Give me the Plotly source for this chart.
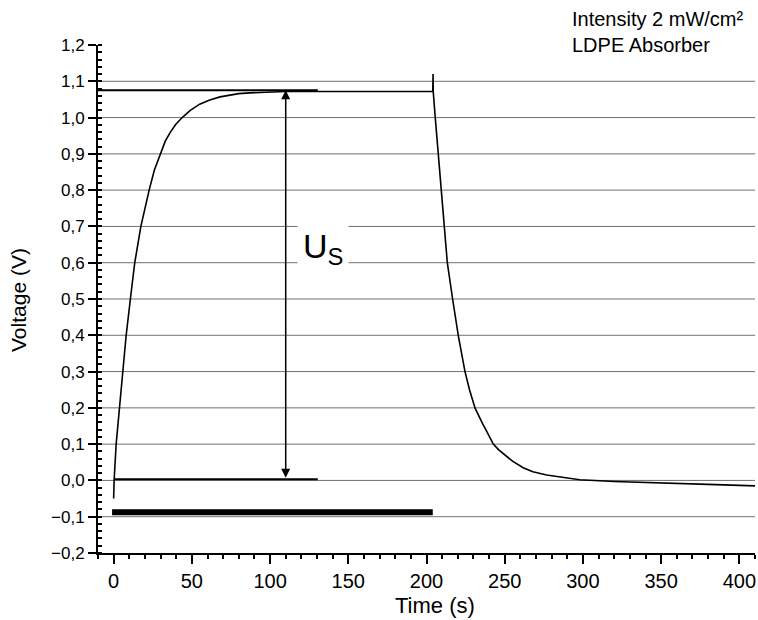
import plotly.graph_objects as go

# ---- data ----
TIME = [0, 0.3, 1.6, 3.7, 5.9, 8.0, 10.7, 13.5, 17.4, 20, 22.7, 26, 29.7, 33, 36, 39.5, 43.8,
        49, 55, 61, 68, 74, 80, 87, 95, 110, 130, 160, 190, 204, 204.2, 204.3, 205.6, 207.5,
        209.4, 211.1, 213.3, 216.7, 220.3, 224.6, 227.5, 231, 233.5, 236, 238.5, 242.7, 246,
        250, 255, 261.8, 268, 276.8, 285, 290, 298, 320, 349, 380, 410]
VOLTAGE = [-0.05, 0.0, 0.1, 0.2, 0.3, 0.4, 0.5, 0.6, 0.7, 0.75, 0.8, 0.855, 0.9, 0.935, 0.958,
           0.98, 1.0, 1.02, 1.037, 1.048, 1.057, 1.062, 1.066, 1.068, 1.070, 1.072, 1.072,
           1.072, 1.072, 1.072, 1.12, 1.072, 1.0, 0.9, 0.8, 0.7, 0.6, 0.5, 0.4, 0.3, 0.25,
           0.2, 0.175, 0.155, 0.135, 0.1, 0.085, 0.07, 0.053, 0.035, 0.024, 0.015, 0.01,
           0.007, 0.002, -0.003, -0.006, -0.011, -0.015]

US_LEVEL_T = [-10, 130.5]      # upper reference line (saturation level)
US_LEVEL_V = [1.075, 1.075]
ZERO_LEVEL_T = [0.3, 130.5]    # lower reference line
ZERO_LEVEL_V = [0.003, 0.003]
LIGHT_T = [-1, 204]            # illumination period bar
LIGHT_V = [-0.088, -0.088]
ARROW_T = 110
ARROW_V = [0.003, 1.075]
LABEL_POS = (134, 0.64)

GRID_LEVELS = [-0.1, 0.0, 0.1, 0.2, 0.3, 0.4, 0.5, 0.6, 0.7, 0.8, 0.9, 1.0, 1.1]
Y_TICKS = [-0.2, -0.1, 0.0, 0.1, 0.2, 0.3, 0.4, 0.5, 0.6, 0.7, 0.8, 0.9, 1.0, 1.1, 1.2]
X_TICKS = [0, 50, 100, 150, 200, 250, 300, 350, 400]

FONT = "Liberation Sans"
W, H = 758, 620
ML, MR, MT, MB = 98, 3, 45, 67
PW, PH = W - ML - MR, H - MT - MB

fig = go.Figure()

fig.add_trace(go.Scatter(x=LIGHT_T, y=LIGHT_V, mode="lines",
                         line=dict(color="black", width=6), hoverinfo="skip"))
fig.add_trace(go.Scatter(x=US_LEVEL_T, y=US_LEVEL_V, mode="lines",
                         line=dict(color="black", width=2), hoverinfo="skip"))
fig.add_trace(go.Scatter(x=ZERO_LEVEL_T, y=ZERO_LEVEL_V, mode="lines",
                         line=dict(color="black", width=2), hoverinfo="skip"))
fig.add_trace(go.Scatter(x=TIME, y=VOLTAGE, mode="lines",
                         line=dict(color="black", width=1.6)))

for g in GRID_LEVELS:
    fig.add_shape(type="line", xref="paper", x0=0, x1=1, yref="y", y0=g, y1=g,
                  line=dict(color="#707070", width=1), layer="below")

fig.add_annotation(x=ARROW_T, y=ARROW_V[1], ax=ARROW_T, ay=ARROW_V[0],
                   xref="x", yref="y", axref="x", ayref="y", text="",
                   showarrow=True, arrowhead=2, startarrowhead=2, arrowside="end+start",
                   arrowsize=1.2, startarrowsize=1.2, arrowwidth=1.5, arrowcolor="black")

fig.add_annotation(x=LABEL_POS[0], y=LABEL_POS[1], xref="x", yref="y",
                   text="U<sub>S</sub>", showarrow=False, bgcolor="white", borderpad=5,
                   font=dict(family=FONT, size=34, color="black"))

# top-right note
fig.add_annotation(x=(570 - ML) / PW, y=1 + (MT - 6) / PH, xref="paper", yref="paper",
                   showarrow=False, text="Intensity 2 mW/cm²<br>LDPE Absorber",
                   align="left", xanchor="left", yanchor="top",
                   font=dict(family=FONT, size=20, color="black"))

# axis titles
fig.add_annotation(x=(435 - ML) / PW, y=0, yshift=-(605 - (H - MB)), xref="paper",
                   yref="paper", showarrow=False, text="Time (s)", yanchor="middle",
                   font=dict(family=FONT, size=22, color="black"))
fig.add_annotation(x=0, xshift=-(ML - 18), y=(H - MB - 300) / PH, xref="paper",
                   yref="paper", showarrow=False, text="Voltage (V)", textangle=-90,
                   xanchor="center", yanchor="middle",
                   font=dict(family=FONT, size=21, color="black"))

fig.update_layout(
    width=W, height=H,
    margin=dict(l=ML, r=MR, t=MT, b=MB, autoexpand=False),
    paper_bgcolor="white", plot_bgcolor="white",
    showlegend=False,
    separators=",.",
    font=dict(family=FONT, size=18, color="black"),
    xaxis=dict(range=[-10, 410], tickvals=X_TICKS, ticks="outside", ticklen=9,
               tickwidth=1.5, tickcolor="black", showline=True, linewidth=2,
               linecolor="black", showgrid=False, zeroline=False, automargin=False,
               tickfont=dict(size=20),
               minor=dict(dtick=10, ticks="outside", ticklen=4, tickwidth=1.5,
                          tickcolor="black", showgrid=False)),
    yaxis=dict(range=[-0.2, 1.2], tickvals=Y_TICKS, tickformat=".1f", ticks="outside",
               ticklen=8, tickwidth=1.5, tickcolor="black", showline=True, linewidth=2,
               linecolor="black", showgrid=False, zeroline=False, automargin=False,
               tickfont=dict(size=17),
               minor=dict(dtick=0.02, ticks="inside", ticklen=4, tickwidth=1.5,
                          tickcolor="black", showgrid=False)),
)

fig.write_html("out.html", config={"displayModeBar": False},
               post_script="document.body.style.margin='0';document.body.style.padding='0';")
